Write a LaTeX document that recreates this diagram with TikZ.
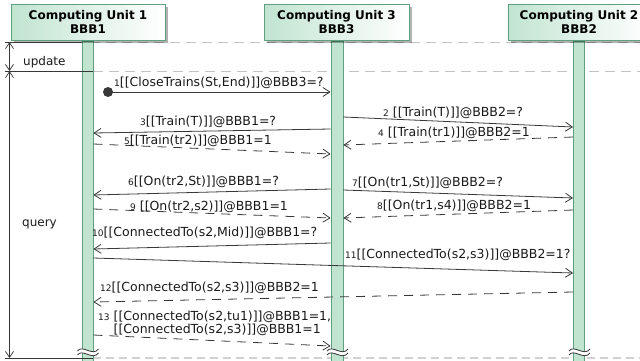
\documentclass[tikz,border=0pt]{standalone}
\usepackage{fontspec}
\setmainfont{DejaVu Sans}
\usetikzlibrary{arrows.meta,shadows}

\definecolor{lifeg}{RGB}{193,228,209}
\definecolor{lineg}{RGB}{95,160,126}
\definecolor{msgc}{RGB}{56,56,56}
\definecolor{sepc}{RGB}{195,195,195}

\newcommand{\msgno}[1]{{\fontsize{9}{10}\selectfont #1}}

\tikzset{
  unit/.style={draw=lineg, line width=0.9pt, left color=lifeg, right color=white,
    minimum width=#1, minimum height=36pt, inner sep=0pt, align=center,
    font=\fontsize{12}{13.5}\selectfont\bfseries,
    drop shadow={shadow xshift=2.5pt, shadow yshift=-2.5pt, fill=black, opacity=0.3}},
  bar/.style={draw=lineg, fill=lifeg, line width=0.8pt, minimum width=11pt,
    minimum height=330pt, inner sep=0pt},
  msg/.style={draw=msgc, line width=0.8pt, -{Straight Barb[length=7pt,width=9pt]}},
  reply/.style={msg, dash pattern=on 9pt off 7pt},
  lbl/.style={anchor=west, inner sep=0pt, text=black!90,
    font=\fontsize{12.5}{12}\selectfont},
  sep/.style={draw=sepc, line width=0.8pt, dash pattern=on 10pt off 6pt},
  ruler/.style={draw=msgc, line width=0.7pt},
}

\begin{document}
\begin{tikzpicture}[x=1pt,y=-1pt]
\useasboundingbox (0,0) rectangle (640,360);
\clip (0,0) rectangle (640,360);

% separators
\draw[sep] (10,42) -- (640,42);
\draw[sep] (93,71) -- (640,71);
\draw[sep, draw=black!18, line width=1.6pt, dash pattern=on 8pt off 5pt] (93,358) -- (640,358);

% lifelines
\node[bar] (bar1) at (87.5,206) {};
\node[bar, minimum width=12pt] (bar3) at (337,206) {};
\node[bar] (bar2) at (579,206) {};

% participants
\node[unit=154pt] (cu1) at (88,22) {Computing Unit 1\\BBB1};
\node[unit=145pt] (cu3) at (336.5,22) {Computing Unit 3\\BBB3};
\node[unit=142pt] (cu2) at (579,22) {Computing Unit 2\\BBB2};

% timing ruler
\coordinate (t0) at (9.5,42);
\coordinate (t1) at (9.5,71);
\coordinate (t2) at (9.5,358);
\draw[ruler] (5,42) -- (bar1.west |- t0);
\draw[ruler] (5,71) -- (bar1.east |- t1);
\draw[ruler] (5,358) -- (bar1.east |- t2);
\draw[ruler, {Straight Barb[length=6pt,width=8pt]}-{Straight Barb[length=6pt,width=8pt]}] (t0) -- (t1);
\draw[ruler, {Straight Barb[length=6pt,width=8pt]}-{Straight Barb[length=6pt,width=8pt]}] (t1) -- (t2);
\node[lbl, font=\fontsize{12}{14}\selectfont] (upd) at (23,62) {update};
\node[lbl, font=\fontsize{12}{14}\selectfont] (qry) at (22,224) {query};

% messages
\node[circle, fill=msgc, minimum size=10pt, inner sep=0pt] (dot) at (108,92) {};
\draw[msg] (dot.center) -- (bar3.west |- dot);
\node[lbl] (l1) at (114,83) {\msgno{1}[[CloseTrains(St,End)]]@BBB3=?};

\draw[msg] (bar3.east |- 0,117) -- (bar2.west |- 0,127);
\node[lbl] (l2) at (383,113) {\msgno{2} [[Train(T)]]@BBB2=?};

\draw[msg] (bar3.west |- 0,129) -- (bar1.east |- 0,133);
\node[lbl] (l3) at (140,122) {\msgno{3}[[Train(T)]]@BBB1=?};

\draw[reply] (bar2.west |- 0,137) -- (bar3.east |- 0,145);
\node[lbl] (l4) at (378,133) {\msgno{4} [[Train(tr1)]]@BBB2=1};

\draw[reply] (bar1.east |- 0,144) -- (bar3.west |- 0,154);
\node[lbl] (l5) at (124,141) {\msgno{5}[[Train(tr2)]]@BBB1=1};

\draw[msg] (bar3.west |- 0,189) -- (bar1.east |- 0,195);
\node[lbl] (l6) at (128,182) {\msgno{6}[[On(tr2,St)]]@BBB1=?};

\draw[msg] (bar3.east |- 0,190) -- (bar2.west |- 0,198);
\node[lbl] (l7) at (352,183) {\msgno{7}[[On(tr1,St)]]@BBB2=?};

\draw[reply] (bar2.west |- 0,210) -- (bar3.east |- 0,218);
\node[lbl] (l8) at (377,206) {\msgno{8}[[On(tr1,s4)]]@BBB2=1};

\draw[reply] (bar1.east |- 0,209) -- (bar3.west |- 0,218);
\node[lbl] (l9) at (130,207) {\msgno{9} [[On(tr2,s2)]]@BBB1=1};

\draw[msg] (bar3.west |- 0,243) -- (bar1.east |- 0,249);
\node[lbl] (l10) at (92,233) {\msgno{10}[[ConnectedTo(s2,Mid)]]@BBB1=?};

\draw[msg] (bar1.east |- 0,258) -- (bar2.west |- 0,273);
\node[lbl] (l11) at (345,255) {\msgno{11}[[ConnectedTo(s2,s3)]]@BBB2=1?};

\draw[reply] (bar2.west |- 0,292) -- (bar1.east |- 0,302);
\node[lbl] (l12) at (100,288) {\msgno{12}[[ConnectedTo(s2,s3)]]@BBB2=1};

\draw[reply] (bar1.east |- 0,335) -- (bar3.west |- 0,346);
\node[lbl, anchor=north west] (l13) at (98,311) {\msgno{13} \begin{tabular}[t]{@{}l@{}}[[ConnectedTo(s2,tu1)]]@BBB1=1,\\{}[[ConnectedTo(s2,s3)]]@BBB1=1\end{tabular}};

% cut marks on the lifelines
\foreach \x in {87.5,337,579} {
  \fill[white] (\x-10,351) .. controls (\x-5,344) and (\x+5,357) .. (\x+11,349)
    -- (\x+11,353) .. controls (\x+5,361) and (\x-5,348) .. (\x-10,355) -- cycle;
  \draw[msgc, line width=0.8pt] (\x-10,351) .. controls (\x-5,344) and (\x+5,357) .. (\x+11,349);
  \draw[msgc, line width=0.8pt] (\x-10,355) .. controls (\x-5,348) and (\x+5,361) .. (\x+11,353);
}
\end{tikzpicture}
\end{document}
